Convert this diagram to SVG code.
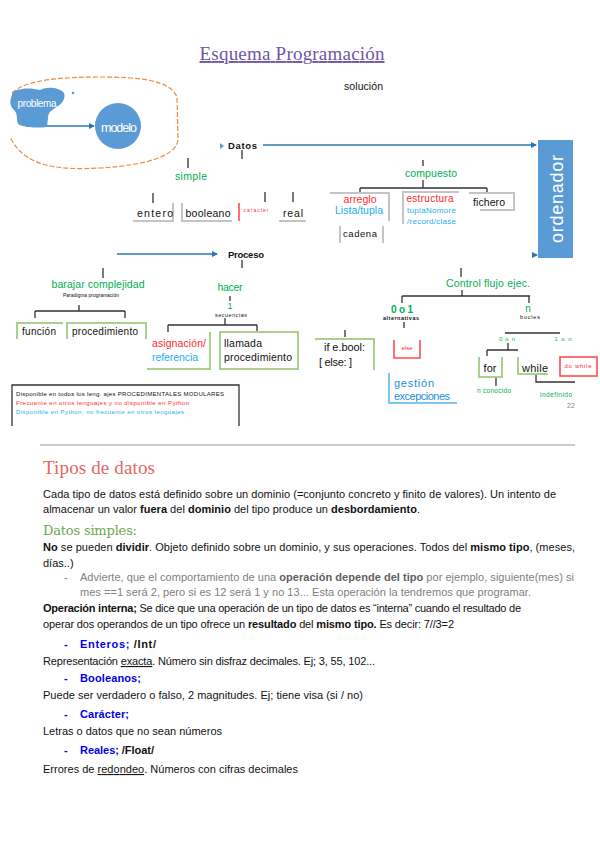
<svg xmlns="http://www.w3.org/2000/svg" width="600" height="848" viewBox="0 0 600 848">
<defs>
<marker id="ah" viewBox="0 0 6 6" refX="5" refY="3" markerWidth="5" markerHeight="5" orient="auto"><path d="M0,0 L6,3 L0,6 Z" fill="#2e75b6"/></marker>
<style>
text{font-family:"Liberation Sans",Arial,sans-serif;fill:#111}
.c{text-anchor:middle}
.g{fill:#00b050}
.r{fill:#ff2a2a}
.lb{fill:#1aaef0}
.w{fill:#fff}
.b{font-weight:bold}
.ln{stroke:#333;stroke-width:1.3;fill:none}
.gy{stroke:#c4c4c4;stroke-width:2;fill:none}
.gr{stroke:#a9d18e;stroke-width:2;fill:none}
.rd{stroke:#ff4d4d;stroke-width:1.6;fill:none}
.bl{stroke:#2e75b6;stroke-width:1.3;fill:none}
.p{font-size:11px}
.bt{fill:#0000ee;font-weight:bold}
.gt{fill:#808080}
.gtb{fill:#606060;font-weight:bold}
</style>
</defs>
<rect width="600" height="848" fill="#fff"/>

<g id="title">
<text x="292" y="60" class="c" style="font-family:'Liberation Serif',serif;font-size:19px;fill:#6f55a6;text-decoration:underline" textLength="185">Esquema Programación</text>
</g>
<g id="solucion"><text x="344" y="90" style="font-size:10.5px" textLength="39">solución</text></g>

<g id="loop">
<path d="M12,93 C25,80 60,77 100,77 C140,77 170,80 177,97 L178,140 C176,155 150,165 100,168 C60,170 25,168 10,137" fill="none" stroke="#f08a3c" stroke-width="1.2" stroke-dasharray="5 2"/>
</g>
<g id="problema">
<path d="M12,95 C12,88 30,87 40,90 C48,86 60,88 64,93 C66,98 62,104 58,106 C52,110 48,112 48,118 L47,127 C38,128 24,128 18,124 C16,118 18,114 14,110 C9,105 10,100 12,95 Z" fill="#5b9bd5"/>
<text x="37" y="107" class="c w" style="font-size:10px" textLength="39">problema</text>
<circle cx="73" cy="93" r="1.3" fill="#5b9bd5"/>
</g>
<g id="modelo">
<circle cx="118" cy="126" r="23" fill="#5b9bd5"/>
<text x="119" y="132" class="c w" style="font-size:12.5px" textLength="36">modelo</text>
</g>

<g id="ordenador">
<rect x="538" y="140" width="35" height="118" fill="#5b9bd5"/>
<text transform="translate(563,199) rotate(-90)" class="c w" style="font-size:18px" textLength="88">ordenador</text>
</g>

<g id="connectors">
<path class="bl" d="M47,126 L94,126" marker-end="url(#ah)"/>
<path class="bl" d="M263,145 L536,145" marker-end="url(#ah)"/>
<path class="bl" d="M117,254 L217,254" marker-end="url(#ah)"/>
<path class="bl" d="M532,255 L537,255" marker-end="url(#ah)"/>
<path d="M220,143 L224,146 L220,149 Z" fill="#5b9bd5"/>
<path class="ln" d="M242,150 V159 M188,158 V168 M153,193 V203 M265,192 V202 M293,192 V202"/>
<path class="ln" d="M423,160 V166 M423,180 V188 M360,188 H487 M360,188 V193 M487,188 V193"/>
<path class="ln" d="M242,260 V268 M230,296 V301 M225,318 V325 M168,325 H257 M168,325 V332 M257,325 V332"/>
<path class="ln" d="M103,268 V278 M79,305 V311 M35,311 H125 M35,311 V318 M125,311 V318"/>
<path class="ln" d="M461,268 V277 M462,290 V296 M402,296 H530 M402,296 V303 M529,296 V303"/>
<path class="ln" d="M404,322 V328 M345,330 V337"/>
<path class="ln" d="M505,333 H560 M508,343 V350 M487,350 H518 M487,350 V356"/>
<path class="ln" d="M496,378 V386 M536,375 V382 H575"/>
</g>

<g id="datos"><text x="228" y="149" class="b" style="font-size:9.5px" textLength="29">Datos</text></g>
<g id="simple"><text x="191" y="180" class="c g" style="font-size:10.5px" textLength="32">simple</text></g>
<g id="entero"><path class="gy" d="M133,221 H173 V203"/><text x="155" y="217" class="c" style="font-size:10.5px" textLength="36">entero</text></g>
<g id="booleano"><path class="gy" d="M182,203 V221 H232"/><text x="208" y="217" class="c" style="font-size:10.5px" textLength="45">booleano</text></g>
<g id="caracter"><path d="M239,203 V221" stroke="#ff4d4d" stroke-width="1.6"/><text x="256" y="212" class="c r" style="font-size:5px" textLength="25">caracter</text></g>
<g id="real"><path class="gy" d="M279,221 H306"/><text x="293" y="217" class="c" style="font-size:10.5px" textLength="20">real</text></g>

<g id="compuesto"><text x="431" y="177" class="c g" style="font-size:10.5px" textLength="52">compuesto</text></g>
<g id="arreglo"><path class="gy" d="M330,193 H389 V221"/><text x="360" y="203" class="c r" style="font-size:10.5px" textLength="33">arreglo</text><text x="359" y="214" class="c lb" style="font-size:10.5px" textLength="48">Lista/tupla</text></g>
<g id="estructura"><path class="gy" d="M403,224 V192 H459"/><text x="430" y="202" class="c r" style="font-size:10px" textLength="47">estructura</text><text x="407" y="213" class="lb" style="font-size:8px" textLength="49">tuplaNomore</text><text x="407" y="224" class="lb" style="font-size:8px" textLength="49">/record/clase</text></g>
<g id="fichero"><path class="gy" d="M469,193 H514 V210 H480"/><text x="489" y="206" class="c" style="font-size:10.5px" textLength="32">fichero</text></g>
<g id="cadena"><path class="gy" d="M340,226 V243 M383,226 V243"/><text x="360" y="237" class="c" style="font-size:9.5px" textLength="34">cadena</text></g>

<g id="proceso"><text x="228" y="258" class="b" style="font-size:9.5px" textLength="36">Proceso</text></g>
<g id="hacer"><text x="230" y="291" class="c g" style="font-size:10.5px" textLength="25">hacer</text></g>
<g id="uno"><text x="230" y="309" class="c g" style="font-size:9px">1</text><text x="231" y="317" class="c" style="font-size:5.5px" textLength="32">secuencias</text></g>
<g id="asignacion"><path class="gr" d="M210,332 V369 H147"/><text x="152" y="347" class="r" style="font-size:10.5px" textLength="54">asignación/</text><text x="152" y="361" class="lb" style="font-size:10.5px" textLength="46">referencia</text></g>
<g id="llamada"><rect x="220" y="332" width="78" height="37" class="gr"/><text x="224" y="347" style="font-size:10.5px" textLength="38">llamada</text><text x="224" y="361" style="font-size:10.5px" textLength="68">procedimiento</text></g>

<g id="barajar"><text x="98" y="288" class="c g" style="font-size:10.5px" textLength="93">barajar complejidad</text><text x="91" y="297" class="c" style="font-size:5px" textLength="56">Paradigma programación</text></g>
<g id="funcion"><path class="gr" d="M17,339 V323 H63"/><text x="22" y="335" style="font-size:10px" textLength="34">función</text></g>
<g id="procedimiento"><path class="gr" d="M67,339 V323 H146 V339"/><text x="72" y="335" style="font-size:10px" textLength="66">procedimiento</text></g>

<g id="control"><text x="488" y="287" class="c g" style="font-size:10.5px" textLength="84">Control flujo ejec.</text></g>
<g id="alt"><text x="402" y="313" class="c g b" style="font-size:10px" textLength="22">0 o 1</text><text x="401" y="320" class="c b" style="font-size:5.5px" textLength="36">alternativas</text></g>
<g id="n"><text x="528" y="312" class="c g" style="font-size:10px">n</text><text x="530" y="319" class="c" style="font-size:5.5px" textLength="20">bucles</text></g>
<g id="if"><path class="gr" d="M315,339 H374 V370"/><text x="324" y="351" style="font-size:11px" textLength="41">if e.bool:</text><text x="319" y="366" style="font-size:11px" textLength="33">[ else: ]</text></g>
<g id="else"><path class="rd" d="M394,340 V358 H420 V340"/><text x="407" y="350" class="c r" style="font-size:6px">else</text></g>
<g id="gestion"><path d="M389,373 V403 H457" stroke="#7cc8f0" stroke-width="2" fill="none"/><text x="394" y="387" style="font-size:11px;fill:#1a8fe0" textLength="40">gestión</text><text x="394" y="400" style="font-size:11px;fill:#1a8fe0" textLength="56">excepciones</text></g>
<g id="on"><text x="507" y="341" class="c g" style="font-size:6px" textLength="16">0 o n</text><text x="563" y="341" class="c g" style="font-size:6px" textLength="17">1 o n</text></g>
<g id="for"><path class="gr" d="M479,357 V377 H502 V357"/><text x="490" y="372" class="c" style="font-size:11px">for</text></g>
<g id="while"><path class="gr" d="M518,357 V374 H548"/><text x="535" y="372" class="c" style="font-size:11px" textLength="26">while</text></g>
<g id="dowhile"><rect x="560" y="357" width="37" height="19" class="rd"/><text x="578" y="368" class="c r" style="font-size:6px" textLength="27">do while</text></g>
<g id="nconocido"><text x="494" y="393" class="c g" style="font-size:6.5px" textLength="34">n conocido</text></g>
<g id="indefinido"><text x="556" y="397" class="c g" style="font-size:6.5px" textLength="32">indefinido</text></g>
<g id="pagenum"><text x="571" y="408" class="c" style="font-size:7px;fill:#888">22</text></g>

<g id="legend">
<path d="M12,426 V385 H239 V426" stroke="#333" stroke-width="1.3" fill="none"/>
<text x="16" y="396" style="font-size:6px" textLength="208">Disponible en todos los leng. ajes PROCEDIMENTALES MODULARES</text>
<text x="16" y="405" class="r" style="font-size:6px" textLength="173">Frecuente en otros lenguajes y no disponible en Python</text>
<text x="16" y="414" class="lb" style="font-size:6px" textLength="168">Disponible en Python, no frecuente en otros lenguajes</text>
</g>

<line x1="40" y1="445" x2="575" y2="445" stroke="#999" stroke-width="1"/>

<g id="texto">
<text x="43" y="474" style="font-family:'Liberation Serif',serif;font-size:19px;fill:#e06666" textLength="112">Tipos de datos</text>
<text x="43" y="498" class="p" textLength="513">Cada tipo de datos está definido sobre un dominio (=conjunto concreto y finito de valores). Un intento de</text>
<text x="43" y="513" class="p" textLength="377">almacenar un valor <tspan class="b">fuera</tspan> del <tspan class="b">dominio</tspan> del tipo produce un <tspan class="b">desbordamiento</tspan>.</text>
<text x="43" y="535" style="font-family:'DejaVu Serif',serif;font-size:13px;fill:#6aa84f" textLength="94">Datos simples:</text>
<text x="43" y="551" class="p" textLength="532"><tspan class="b">No</tspan> se pueden <tspan class="b">dividir</tspan>. Objeto definido sobre un dominio, y sus operaciones. Todos del <tspan class="b">mismo tipo</tspan>, (meses,</text>
<text x="43" y="567" class="p">días..)</text>
<text x="64" y="581" class="p gt">-</text>
<text x="80" y="581" class="p gt" textLength="494">Advierte, que el comportamiento de una <tspan class="gtb">operación depende del tipo</tspan> por ejemplo, siguiente(mes) si</text>
<text x="80" y="596" class="p gt" textLength="451">mes ==1 será 2, pero si es 12 será 1  y no 13... Esta operación la tendremos que programar.</text>
<text x="43" y="612" class="p" textLength="478"><tspan class="b">Operación interna;</tspan> Se dice que una operación de un tipo de datos es “interna” cuando el resultado de</text>
<text x="43" y="628" class="p" textLength="411">operar dos operandos de un tipo ofrece un <tspan class="b">resultado</tspan> del <tspan class="b">mismo tipo.</tspan> Es decir: 7//3=2</text>
<text x="64" y="648" class="p bt">-</text>
<text x="80" y="648" class="p" textLength="76"><tspan class="bt">Enteros;</tspan>  <tspan class="b">/Int/</tspan></text>
<text x="43" y="665" class="p" textLength="332">Representación <tspan style="text-decoration:underline">exacta</tspan>. Número sin disfraz decimales. Ej; 3, 55, 102...</text>
<text x="64" y="682" class="p bt">-</text>
<text x="80" y="682" class="p bt" textLength="61">Booleanos;</text>
<text x="43" y="699" class="p" textLength="320">Puede ser verdadero o falso, 2 magnitudes. Ej; tiene visa (si / no)</text>
<text x="64" y="718" class="p bt">-</text>
<text x="80" y="718" class="p bt" textLength="49">Carácter;</text>
<text x="43" y="735" class="p" textLength="179">Letras o datos que no sean números</text>
<text x="64" y="754" class="p bt">-</text>
<text x="80" y="754" class="p" textLength="74"><tspan class="bt">Reales;</tspan>  <tspan class="b">/Float/</tspan></text>
<text x="43" y="773" class="p" textLength="255">Errores de <tspan style="text-decoration:underline">redondeo</tspan>. Números con cifras decimales</text>
</g>
</svg>
